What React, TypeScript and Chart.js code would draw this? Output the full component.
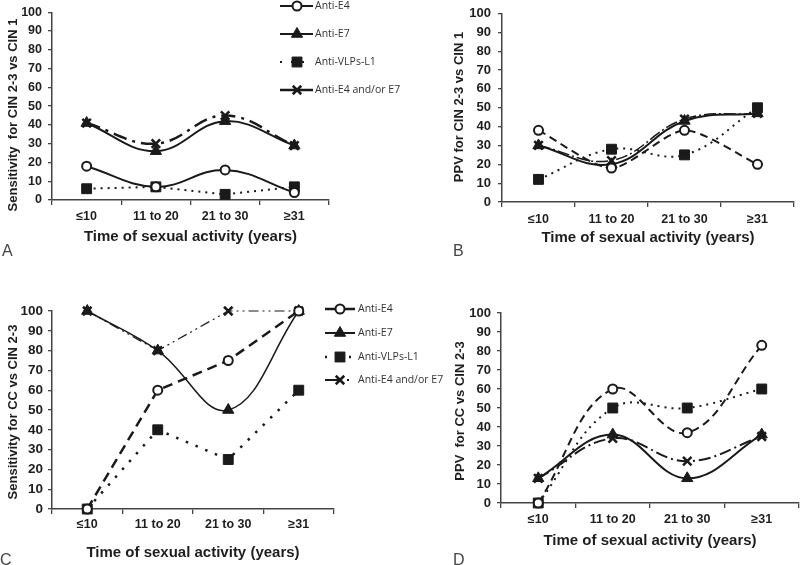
import React, { useEffect, useRef } from 'react';
import { Chart, registerables } from 'chart.js';
Chart.register(...registerables);

// ---------- data ----------
const categories = ['≤10', '11 to 20', '21 to 30', '≥31'];
const seriesLabels = ['Anti-E4', 'Anti-E7', 'Anti-VLPs-L1', 'Anti-E4 and/or E7'];
const xAxisTitle = 'Time of sexual activity (years)';
const yMin = 0;
const yMax = 100;
const yStep = 10;

// A: Sensitivity for CIN 2-3 vs CIN 1
const sensCinE4 = [18, 7, 16, 4];
const sensCinE7 = [41, 26, 42, 29];
const sensCinVLP = [6, 7, 3, 7];
const sensCinE4E7 = [41, 30, 45, 29];

// B: PPV for CIN 2-3 vs CIN 1
const ppvCinE4 = [38, 18, 38, 20];
const ppvCinE7 = [30, 20, 43, 47];
const ppvCinVLP = [12, 28, 25, 50];
const ppvCinE4E7 = [30, 22, 44, 47];

// C: Sensitivity for CC vs CIN 2-3
const sensCcE4 = [0, 60, 75, 100];
const sensCcE7 = [100, 80, 50, 100];
const sensCcVLP = [0, 40, 25, 60];
const sensCcE4E7 = [100, 80, 100, 100];

// D: PPV for CC vs CIN 2-3
const ppvCcE4 = [0, 60, 37, 83];
const ppvCcE7 = [13, 36, 13, 36];
const ppvCcVLP = [0, 50, 50, 60];
const ppvCcE4E7 = [13, 34, 22, 35];

// ---------- styles ----------
const INK = '#1a1a1a';
const AXIS = '#444';
const TEXT = '#1e1e1e';
const FONT = '"Liberation Sans", Arial, Helvetica, sans-serif';
const LEGEND_FONT = '"Open Sans", "Liberation Sans", sans-serif';

const markers: any[] = [
  { pointStyle: 'circle', pointRadius: 4.5, pointBackgroundColor: '#fff', pointBorderColor: INK, pointBorderWidth: 2 },
  { pointStyle: 'triangle', pointRadius: 6.5, pointBackgroundColor: INK, pointBorderColor: INK, pointBorderWidth: 1 },
  { pointStyle: 'rect', pointRadius: 7, pointBackgroundColor: INK, pointBorderColor: INK, pointBorderWidth: 1 },
  { pointStyle: 'crossRot', pointRadius: 6, pointBackgroundColor: INK, pointBorderColor: INK, pointBorderWidth: 2.5 },
];

type LineStyle = { dash: number[]; width: number; tension: number; legendDash?: number[] };

type PanelCfg = {
  left: number; top: number; w: number; h: number;
  areaLeft: number; areaRight: number; areaTop: number; areaBottom: number;
  series: number[][];
  lines: LineStyle[];
  yTitle: string; yTitleX: number; yTitleY: number; yTitleSize: number;
  yTickSize: number; yTickPad: number;
  xTickPad: number; xTitlePad: number;
  legend?: { x0: number; x1: number; mx: number; tx: number; ys: number[] };
};

const panels: PanelCfg[] = [
  {
    left: 0, top: 0, w: 420, h: 265,
    areaLeft: 52, areaRight: 329, areaTop: 6, areaBottom: 200,
    series: [sensCinE4, sensCinE7, sensCinVLP, sensCinE4E7],
    lines: [
      { dash: [], width: 2, tension: 0.4 },
      { dash: [], width: 2, tension: 0.4 },
      { dash: [2, 5], width: 2, tension: 0, legendDash: [2, 9] },
      { dash: [14, 6, 3, 6], width: 2.5, tension: 0.4, legendDash: [] },
    ],
    yTitle: 'Sensitivity  for CIN 2-3 vs CIN 1', yTitleX: 13, yTitleY: 115, yTitleSize: 13,
    yTickSize: 12.5, yTickPad: 6, xTickPad: 4, xTitlePad: 19,
    legend: { x0: 280, x1: 313, mx: 297, tx: 315, ys: [6, 34, 62, 90] },
  },
  {
    left: 420, top: 0, w: 380, h: 265,
    areaLeft: 82, areaRight: 374, areaTop: 6, areaBottom: 202,
    series: [ppvCinE4, ppvCinE7, ppvCinVLP, ppvCinE4E7],
    lines: [
      { dash: [8, 5], width: 2, tension: 0.25 },
      { dash: [], width: 2, tension: 0.4 },
      { dash: [2, 5], width: 2, tension: 0.4 },
      { dash: [12, 3, 2, 3], width: 1.5, tension: 0.4 },
    ],
    yTitle: 'PPV for CIN 2-3 vs CIN 1', yTitleX: 39, yTitleY: 107, yTitleSize: 13,
    yTickSize: 13, yTickPad: 7, xTickPad: 5, xTitlePad: 18,
  },
  {
    left: 0, top: 280, w: 470, h: 285,
    areaLeft: 52, areaRight: 334, areaTop: 31, areaBottom: 229,
    series: [sensCcE4, sensCcE7, sensCcVLP, sensCcE4E7],
    lines: [
      { dash: [10, 6], width: 2.5, tension: 0, legendDash: [12, 8] },
      { dash: [], width: 1.5, tension: 0.4 },
      { dash: [2.5, 8], width: 2.5, tension: 0, legendDash: [2, 10] },
      { dash: [10, 4, 2, 4, 2, 4], width: 1.2, tension: 0, legendDash: [14, 8, 2, 8] },
    ],
    yTitle: 'Sensitivity for CC vs CIN 2-3', yTitleX: 13, yTitleY: 132, yTitleSize: 13,
    yTickSize: 13.5, yTickPad: 5, xTickPad: 3, xTitlePad: 3,
    legend: { x0: 325, x1: 355, mx: 340, tx: 358, ys: [29, 53, 77, 100] },
  },
  {
    left: 420, top: 280, w: 380, h: 285,
    areaLeft: 81, areaRight: 379, areaTop: 33, areaBottom: 223,
    series: [ppvCcE4, ppvCcE7, ppvCcVLP, ppvCcE4E7],
    lines: [
      { dash: [8, 5], width: 2, tension: 0.4 },
      { dash: [], width: 2, tension: 0.4 },
      { dash: [2, 5], width: 2, tension: 0.4 },
      { dash: [12, 4, 2, 4], width: 2, tension: 0.4 },
    ],
    yTitle: 'PPV  for CC vs CIN 2-3', yTitleX: 40, yTitleY: 131, yTitleSize: 13,
    yTickSize: 13, yTickPad: 6, xTickPad: 4, xTitlePad: 15,
  },
];

const panelLetters = [
  { text: 'A', left: 2, top: 243 },
  { text: 'B', left: 453, top: 243 },
  { text: 'C', left: 0, top: 552 },
  { text: 'D', left: 453, top: 552 },
];

function drawMarker(ctx: CanvasRenderingContext2D, m: any, x: number, y: number) {
  const r = m.pointRadius;
  ctx.save();
  ctx.setLineDash([]);
  ctx.fillStyle = m.pointBackgroundColor;
  ctx.strokeStyle = m.pointBorderColor;
  ctx.lineWidth = m.pointBorderWidth;
  ctx.beginPath();
  if (m.pointStyle === 'circle') {
    ctx.arc(x, y, r, 0, Math.PI * 2);
    ctx.fill();
    ctx.stroke();
  } else if (m.pointStyle === 'triangle') {
    for (let k = 0; k < 3; k++) {
      const a = (k * 2 * Math.PI) / 3;
      const px = x + Math.sin(a) * r;
      const py = y - Math.cos(a) * r;
      if (k === 0) ctx.moveTo(px, py); else ctx.lineTo(px, py);
    }
    ctx.closePath();
    ctx.fill();
    ctx.stroke();
  } else if (m.pointStyle === 'rect') {
    const s = r / Math.SQRT2;
    ctx.rect(x - s, y - s, 2 * s, 2 * s);
    ctx.fill();
    ctx.stroke();
  } else {
    const s = r * Math.SQRT1_2;
    ctx.moveTo(x - s, y - s); ctx.lineTo(x + s, y + s);
    ctx.moveTo(x + s, y - s); ctx.lineTo(x - s, y + s);
    ctx.stroke();
  }
  ctx.restore();
}

function makeDeco(cfg: PanelCfg) {
  return {
    id: 'deco',
    afterDraw(chart: any) {
      const ctx: CanvasRenderingContext2D = chart.ctx;
      ctx.save();
      ctx.translate(cfg.yTitleX, cfg.yTitleY);
      ctx.rotate(-Math.PI / 2);
      ctx.font = `bold ${cfg.yTitleSize}px ${FONT}`;
      ctx.fillStyle = TEXT;
      ctx.textAlign = 'center';
      ctx.textBaseline = 'middle';
      ctx.fillText(cfg.yTitle, 0, 0);
      ctx.restore();
      if (cfg.legend) {
        const L = cfg.legend;
        chart.data.datasets.forEach((d: any, i: number) => {
          const y = L.ys[i];
          ctx.save();
          ctx.strokeStyle = d.borderColor;
          ctx.lineWidth = Math.max(2, d.borderWidth);
          ctx.setLineDash(d.legendDash ?? d.borderDash ?? []);
          ctx.beginPath();
          ctx.moveTo(L.x0, y);
          ctx.lineTo(L.x1, y);
          ctx.stroke();
          ctx.restore();
          drawMarker(ctx, markers[i], L.mx, y);
          ctx.save();
          ctx.font = `10.5px ${LEGEND_FONT}`;
          ctx.fillStyle = '#333';
          ctx.textAlign = 'left';
          ctx.textBaseline = 'middle';
          ctx.fillText(d.label, L.tx, y);
          ctx.restore();
        });
      }
    },
  };
}

function Panel({ cfg }: { cfg: PanelCfg }) {
  const ref = useRef<HTMLCanvasElement>(null);
  useEffect(() => {
    const datasets = cfg.series.map((data, i) => ({
      label: seriesLabels[i],
      data,
      borderColor: INK,
      borderWidth: cfg.lines[i].width,
      borderDash: cfg.lines[i].dash,
      legendDash: cfg.lines[i].legendDash,
      tension: cfg.lines[i].tension,
      fill: false,
      clip: false as any,
      ...markers[i],
    }));
    const chart = new Chart(ref.current as HTMLCanvasElement, {
      type: 'line',
      data: { labels: categories, datasets: datasets as any },
      options: {
        animation: false,
        responsive: false,
        events: [],
        layout: {
          autoPadding: false,
          padding: { left: 0, top: cfg.areaTop, right: cfg.w - cfg.areaRight, bottom: 0 },
        },
        plugins: { legend: { display: false }, tooltip: { enabled: false }, title: { display: false } },
        scales: {
          x: {
            type: 'category',
            offset: true,
            grid: { offset: true, drawOnChartArea: false, drawTicks: true, tickLength: 5, color: AXIS, lineWidth: 1.3 },
            border: { display: true, color: AXIS, width: 1.5 },
            ticks: { color: TEXT, padding: cfg.xTickPad, font: { family: FONT, size: 12.5, weight: 'bold', lineHeight: 1.2 }, maxRotation: 0, autoSkip: false },
            title: { display: true, text: xAxisTitle, color: TEXT, font: { family: FONT, size: 15, weight: 'bold', lineHeight: 1.2 }, padding: { top: 0, bottom: cfg.xTitlePad } },
            afterFit: (s: any) => { s.height = cfg.h - cfg.areaBottom; },
          },
          y: {
            min: yMin,
            max: yMax,
            grid: { drawOnChartArea: false, drawTicks: true, tickLength: 4, color: AXIS, lineWidth: 1.3 },
            border: { display: true, color: AXIS, width: 1.5 },
            ticks: { stepSize: yStep, color: TEXT, padding: cfg.yTickPad, font: { family: FONT, size: cfg.yTickSize, weight: 'bold', lineHeight: 1 } },
            afterFit: (s: any) => { s.width = cfg.areaLeft; },
          },
        },
      } as any,
      plugins: [makeDeco(cfg)],
    });
    return () => chart.destroy();
  }, []);
  return (
    <canvas
      ref={ref}
      width={cfg.w}
      height={cfg.h}
      style={{ position: 'absolute', left: cfg.left, top: cfg.top, width: cfg.w, height: cfg.h, display: 'block' }}
    />
  );
}

export default function App() {
  return (
    <div style={{ position: 'absolute', left: 0, top: 0, width: 800, height: 565, background: '#fff', overflow: 'hidden' }}>
      {panels.map((p, i) => (
        <Panel key={i} cfg={p} />
      ))}
      {panelLetters.map((l) => (
        <div
          key={l.text}
          style={{ position: 'absolute', left: l.left, top: l.top, fontFamily: FONT, fontSize: 16, lineHeight: 1, color: '#444' }}
        >
          {l.text}
        </div>
      ))}
    </div>
  );
}
